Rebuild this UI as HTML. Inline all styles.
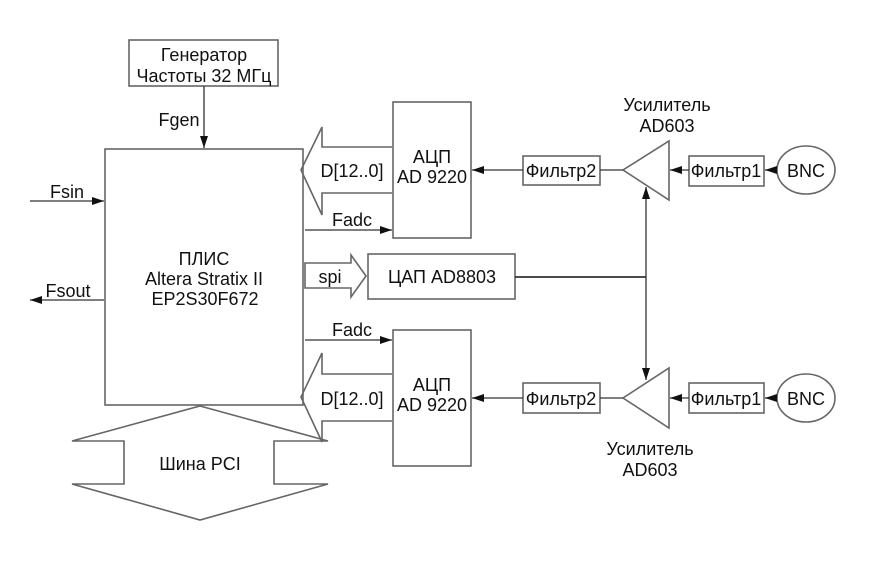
<!DOCTYPE html>
<html><head><meta charset="utf-8"><style>
html,body{margin:0;padding:0;background:#fff;}
svg{display:block;}
text{font-family:"Liberation Sans","DejaVu Sans",sans-serif;font-size:18px;fill:#111;}
</style></head><body>
<svg width="890" height="583" viewBox="0 0 890 583" xmlns="http://www.w3.org/2000/svg">
<defs>
<marker id="ah" markerWidth="12" markerHeight="8" refX="12" refY="4" orient="auto" markerUnits="userSpaceOnUse">
<path d="M0,0 L12,4 L0,8 z" fill="#111"/></marker>
</defs>
<g fill="none" stroke="#666" stroke-width="1.6">
<rect x="129" y="40" width="149" height="46"/>
<rect x="105" y="149" width="198" height="256"/>
<path d="M200,406 L328,441 L274,441 L274,484 L328,484 L200,520 L72,484 L124,484 L124,441 L72,441 Z"/>
<rect x="393" y="102" width="78" height="136"/>
<rect x="393" y="330" width="78" height="136"/>
<path d="M392,147 L322,147 L322,127 L301,170 L322,215 L322,193 L392,193"/>
<path d="M392,374 L322,374 L322,353 L301,397 L322,442 L322,421 L392,421"/>
<path d="M305,263 L351,263 L351,255 L366,276 L351,297 L351,288 L305,288 Z"/>
<rect x="368" y="254" width="147" height="45"/>
<rect x="523" y="156" width="77" height="29"/>
<rect x="523" y="383" width="77" height="30"/>
<rect x="689" y="156" width="75" height="30"/>
<rect x="689" y="383" width="75" height="30"/>
<path d="M669,141 L669,200 L623,170 Z"/>
<path d="M669,368 L669,428 L623,398 Z"/>
<ellipse cx="806" cy="170" rx="29" ry="24"/>
<ellipse cx="806" cy="398" rx="29" ry="24"/>
</g>
<g stroke="#333" stroke-width="1.3" fill="none">
<line x1="204" y1="86" x2="204" y2="148" marker-end="url(#ah)"/>
<line x1="30" y1="201" x2="104" y2="201" marker-end="url(#ah)"/>
<line x1="104" y1="300" x2="30" y2="300" marker-end="url(#ah)"/>
<line x1="305" y1="230" x2="392" y2="230" marker-end="url(#ah)"/>
<line x1="305" y1="340" x2="392" y2="340" marker-end="url(#ah)"/>
<line x1="523" y1="170" x2="472" y2="170" marker-end="url(#ah)"/>
<line x1="523" y1="398" x2="472" y2="398" marker-end="url(#ah)"/>
<line x1="600" y1="170" x2="623" y2="170"/>
<line x1="600" y1="398" x2="623" y2="398"/>
<line x1="689" y1="170" x2="670" y2="170" marker-end="url(#ah)"/>
<line x1="689" y1="398" x2="670" y2="398" marker-end="url(#ah)"/>
<line x1="777" y1="170" x2="765" y2="170" marker-end="url(#ah)"/>
<line x1="777" y1="398" x2="765" y2="398" marker-end="url(#ah)"/>
<line x1="515" y1="277" x2="646" y2="277" stroke-width="1.8"/>
<line x1="646" y1="277" x2="646" y2="187" marker-end="url(#ah)"/>
<line x1="646" y1="277" x2="646" y2="380" marker-end="url(#ah)"/>
</g>
<g text-anchor="middle">
<text x="204" y="61">Генератор</text>
<text x="204" y="82">Частоты 32 МГц</text>
<text x="179" y="126">Fgen</text>
<text x="67" y="198">Fsin</text>
<text x="68" y="297">Fsout</text>
<text x="204" y="265">ПЛИС</text>
<text x="204" y="285">Altera Stratix II</text>
<text x="205" y="305">EP2S30F672</text>
<text x="200" y="470">Шина PCI</text>
<text x="352" y="177">D[12..0]</text>
<text x="352" y="405">D[12..0]</text>
<text x="432" y="163">АЦП</text>
<text x="432" y="183">AD 9220</text>
<text x="432" y="391">АЦП</text>
<text x="432" y="411">AD 9220</text>
<text x="352" y="226">Fadc</text>
<text x="352" y="336">Fadc</text>
<text x="330" y="283">spi</text>
<text x="442" y="283">ЦАП AD8803</text>
<text x="561" y="177">Фильтр2</text>
<text x="561" y="405">Фильтр2</text>
<text x="726" y="177">Фильтр1</text>
<text x="726" y="405">Фильтр1</text>
<text x="806" y="177">BNC</text>
<text x="806" y="405">BNC</text>
<text x="667" y="111">Усилитель</text>
<text x="667" y="132">AD603</text>
<text x="650" y="455">Усилитель</text>
<text x="650" y="476">AD603</text>
</g>
</svg>
</body></html>
